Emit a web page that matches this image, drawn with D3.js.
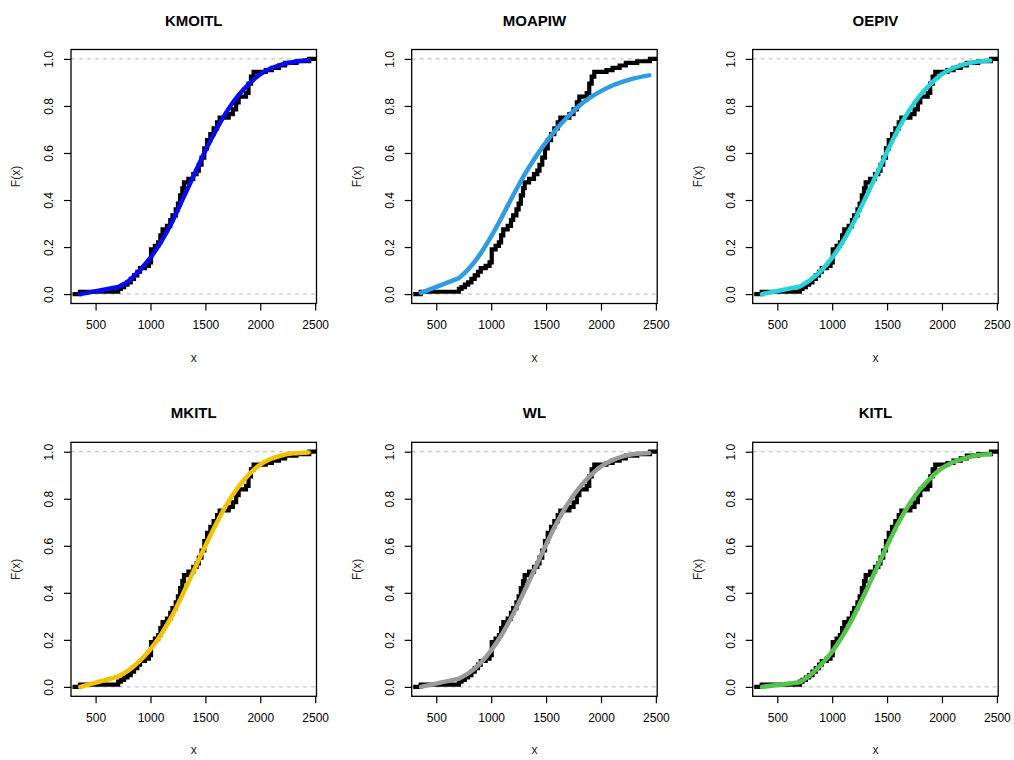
<!DOCTYPE html>
<html>
<head>
<meta charset="utf-8">
<script src="https://cdn.jsdelivr.net/npm/d3@7"></script>
<style>
  body { margin: 0; background: #fff; }
  svg { display: block; font-family: "Liberation Sans", Arial, sans-serif; }
</style>
</head>
<body>
<div id="chart"></div>
<script>
// panel titles and fitted-curve colours
const titles = ["KMOITL", "MOAPIW", "OEPIV", "MKITL", "WL", "KITL"];
const colors = ["#0a0aef", "#2f9be3", "#27d3d6", "#f2c200", "#9a9a9a", "#55c44b"];

// empirical cdf: jump locations and heights after each jump
const ecdfX = [358, 706, 730, 760, 790, 820, 850, 880, 905, 950, 985, 1005, 1040, 1070, 1090, 1110,
  1150, 1180, 1200, 1230, 1250, 1270, 1290, 1305, 1345, 1390, 1420, 1440, 1465, 1490, 1515, 1545,
  1575, 1606, 1630, 1712, 1750, 1780, 1803, 1870, 1893, 1915, 1939, 2050, 2105, 2170, 2226, 2330, 2446];
const ecdfY = [0.01, 0.022, 0.03, 0.04, 0.05, 0.065, 0.08, 0.095, 0.11, 0.12, 0.135, 0.19, 0.205, 0.22,
  0.25, 0.275, 0.29, 0.315, 0.335, 0.36, 0.385, 0.42, 0.45, 0.475, 0.49, 0.51, 0.525, 0.55, 0.58, 0.62,
  0.655, 0.68, 0.705, 0.73, 0.75, 0.765, 0.785, 0.815, 0.84, 0.855, 0.895, 0.925, 0.945, 0.952, 0.962,
  0.972, 0.983, 0.99, 1.0];

// fitted cdf values, evaluated at fitX
const fitX = [360, 706, 800, 900, 1000, 1100, 1200, 1300, 1400, 1500, 1600, 1700, 1800, 1900, 2000,
  2100, 2200, 2300, 2440];
const fitKMOITL = [0.0, 0.03, 0.055, 0.10, 0.155, 0.225, 0.31, 0.41, 0.51, 0.61, 0.70, 0.78, 0.845,
  0.895, 0.935, 0.96, 0.977, 0.987, 0.995];
const fitMOAPIW = [0.005, 0.068, 0.11, 0.17, 0.245, 0.33, 0.42, 0.505, 0.58, 0.646, 0.705, 0.755, 0.80,
  0.835, 0.863, 0.886, 0.903, 0.917, 0.93];
const fitOEPIV = [0.0, 0.032, 0.06, 0.10, 0.155, 0.225, 0.31, 0.405, 0.505, 0.605, 0.70, 0.78, 0.845,
  0.895, 0.935, 0.96, 0.977, 0.987, 0.993];
const fitMKITL = [0.0, 0.044, 0.07, 0.11, 0.16, 0.225, 0.305, 0.40, 0.50, 0.60, 0.695, 0.78, 0.85,
  0.905, 0.945, 0.97, 0.985, 0.993, 0.997];
const fitWL = [0.0, 0.035, 0.06, 0.10, 0.155, 0.225, 0.31, 0.405, 0.505, 0.605, 0.70, 0.78, 0.845,
  0.897, 0.937, 0.963, 0.98, 0.99, 0.995];
const fitKITL = [0.0, 0.02, 0.05, 0.095, 0.15, 0.22, 0.305, 0.40, 0.50, 0.60, 0.695, 0.775, 0.84,
  0.89, 0.93, 0.955, 0.972, 0.983, 0.99];
const fits = [fitKMOITL, fitMOAPIW, fitOEPIV, fitMKITL, fitWL, fitKITL];

// axis ticks
const xTicks = [500, 1000, 1500, 2000, 2500];
const yTicks = [0, 0.2, 0.4, 0.6, 0.8, 1.0];

var width = 1014, height = 760;
var lefts = [71, 411.7, 752.7], tops = [49.5, 442.3];
var pw = 245.5, ph = 254;

var svg = d3.select("#chart").append("svg")
    .attr("width", width)
    .attr("height", height);

//scales shared by every panel
var x = d3.scaleLinear().domain([276, 2512]).range([0, pw]);
var y = d3.scaleLinear().domain([-0.04, 1.04]).range([ph, 0]);

var line = d3.line().x(d => x(d[0])).y(d => y(d[1]));
var smooth = d3.line().curve(d3.curveMonotoneX).x(d => x(d[0])).y(d => y(d[1]));

titles.forEach(function(title, i) {
    var g = svg.append("g")
        .attr("transform", "translate(" + lefts[i % 3] + "," + tops[Math.floor(i / 3)] + ")");

    //dashed reference lines at 0 and 1
    g.selectAll(".ref")
        .data([0, 1])
        .enter()
        .append("line")
        .attr("x1", 0).attr("x2", pw)
        .attr("y1", d => y(d)).attr("y2", d => y(d))
        .attr("stroke", "#b8b8b8")
        .attr("stroke-width", 1)
        .attr("stroke-dasharray", "4,4");

    //empirical step function
    var steps = [[x.domain()[0] + 14, 0]];
    ecdfX.forEach(function(v, k) {
        steps.push([v, k === 0 ? 0 : ecdfY[k - 1]]);
        steps.push([v, ecdfY[k]]);
    });
    steps.push([x.domain()[1], 1]);
    g.append("path")
        .datum(steps)
        .attr("fill", "none")
        .attr("stroke", "#000")
        .attr("stroke-width", 4.2)
        .attr("stroke-linejoin", "miter")
        .attr("d", line);

    //fitted distribution (straight over the gap in the data, smooth after it)
    var pts = fitX.map((v, k) => [v, fits[i][k]]);
    g.append("path")
        .attr("fill", "none")
        .attr("stroke", colors[i])
        .attr("stroke-width", 4.5)
        .attr("stroke-linecap", "round")
        .attr("stroke-linejoin", "round")
        .attr("d", line(pts.slice(0, 2)) + smooth(pts.slice(1)).replace(/^M[^CL]*/, ""));

    //box
    g.append("rect")
        .attr("width", pw).attr("height", ph)
        .attr("fill", "none")
        .attr("stroke", "#000")
        .attr("stroke-width", 1.3);

    //x axis
    var xa = g.append("g")
        .attr("transform", "translate(0," + ph + ")")
        .call(d3.axisBottom(x).tickValues(xTicks).tickSize(7).tickPadding(10).tickFormat(d3.format("d")));
    xa.select(".domain").remove();
    xa.selectAll("line").attr("stroke-width", 1.2);
    xa.selectAll("text").attr("font-size", 12).attr("font-family", "Liberation Sans, Arial").attr("fill", "#000");

    //y axis
    var ya = g.append("g")
        .call(d3.axisLeft(y).tickValues(yTicks).tickSize(7).tickFormat(d3.format(".1f")).tickPadding(5));
    ya.select(".domain").remove();
    ya.selectAll("line").attr("stroke-width", 1.2);
    ya.selectAll("text")
        .attr("font-size", 12).attr("font-family", "Liberation Sans, Arial").attr("fill", "#000")
        .attr("text-anchor", "middle")
        .attr("dy", 0)
        .attr("x", 0).attr("y", 0)
        .attr("transform", "translate(-18,0) rotate(-90)");

    //title
    g.append("text")
        .attr("x", pw / 2).attr("y", -24)
        .attr("text-anchor", "middle")
        .attr("font-weight", "bold")
        .attr("font-size", 15)
        .text(title);

    //axis labels
    g.append("text")
        .attr("x", pw / 2).attr("y", ph + 58)
        .attr("text-anchor", "middle")
        .attr("font-size", 12)
        .attr("fill", "#222")
        .text("x");
    g.append("text")
        .attr("transform", "translate(-51," + (ph / 2) + ") rotate(-90)")
        .attr("text-anchor", "middle")
        .attr("font-size", 12)
        .attr("fill", "#222")
        .text("F(x)");
});
</script>
</body>
</html>
